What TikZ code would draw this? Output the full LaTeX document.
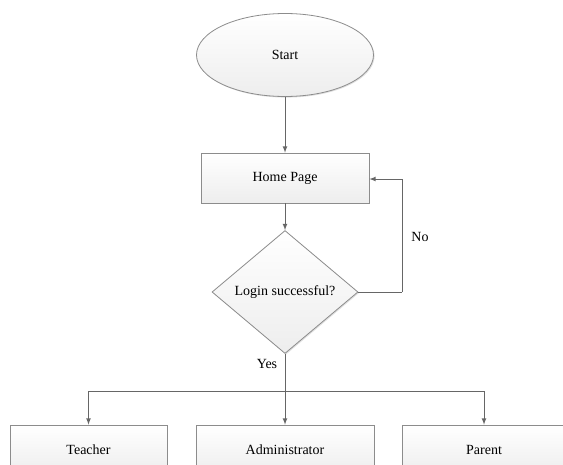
\documentclass[tikz,border=0pt]{standalone}
\usepackage{fontspec}
\setmainfont{Liberation Serif}
\usepackage{tikz}
\usetikzlibrary{arrows}
\usetikzlibrary{shapes.geometric}
\usetikzlibrary{shadows}
\begin{document}
\begin{tikzpicture}[x=0.75pt, y=-0.75pt,
                    font=\fontsize{10.5}{12}\selectfont,
                    blk/.style={draw=gray!90, line width=.6pt, top color=white, bottom color=gray!14,
                                drop shadow={opacity=.25, shadow xshift=.8pt, shadow yshift=-.8pt}},
                    box/.style={blk, rectangle, minimum height=37.5pt},
                    line/.style={draw=black!60, line width=.6pt},
                    arr/.style={line, -latex}]
      \clip (0,0) rectangle (563,464);
      \fill[white] (0,0) rectangle (563,464);

      \node[blk, ellipse, minimum width=132.75pt, minimum height=62.25pt] (start) at (285,55) {Start};
      \node[box, minimum width=126pt] (home) at (285,178) {Home Page};
      \node[blk, diamond, inner sep=0pt, minimum width=109.5pt, minimum height=92.25pt] (login) at (285,292) {Login successful?};

      \node[box, minimum width=117.75pt] (teacher) at (88.5,450) {Teacher};
      \node[box, minimum width=133.5pt] (admin) at (285,450) {Administrator};
      \node[box, minimum width=123pt] (parent) at (484,450) {Parent};

      \coordinate (loopbot) at (402,292);
      \coordinate (looptop) at (402,179);
      \coordinate (split) at (285,391);
      \coordinate (splitl) at (88.5,391);
      \coordinate (splitr) at (484,391);

      \draw[arr] (start) -- (home);
      \draw[arr] (home) -- (login);
      \draw[line] (login.east) -- (loopbot);
      \draw[arr] (loopbot) -- (looptop) -- (home.east |- looptop);
      \node (no) at (420,237) {No};

      \draw[line] (login.south) -- (split);
      \node (yes) at (267,364) {Yes};
      \draw[arr] (split) -- (admin);
      \draw[arr] (split) -- (splitl) -- (teacher);
      \draw[arr] (split) -- (splitr) -- (parent);
    \end{tikzpicture}
\end{document}
